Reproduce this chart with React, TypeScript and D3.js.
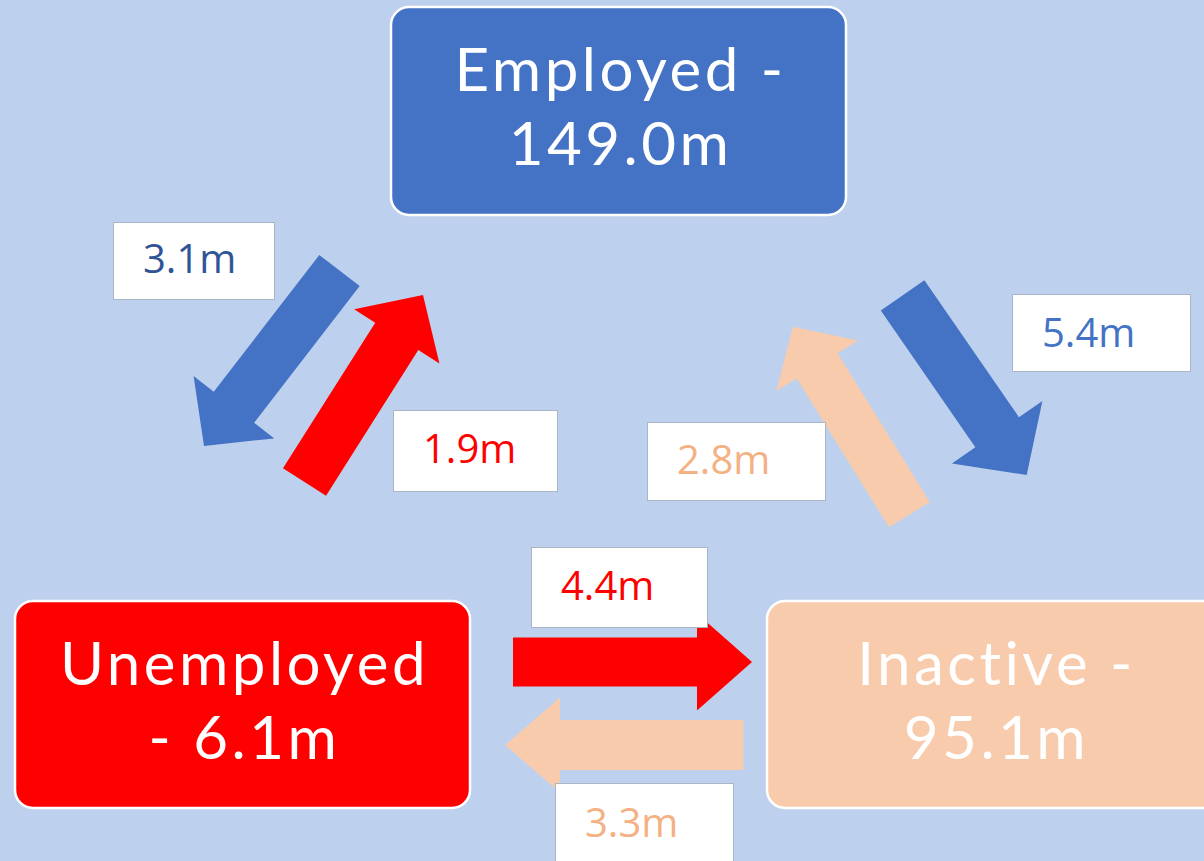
import React, { useEffect, useRef } from 'react';
import * as d3 from 'd3';

// labour market states and their stocks (millions)
const stateNames = ['Employed', 'Unemployed', 'Inactive'];
const stateValues = [149.0, 6.1, 95.1];
const stateLines = [
  ['Employed -', '149.0m'],
  ['Unemployed', '- 6.1m'],
  ['Inactive -', '95.1m'],
];

// flows between states (millions)
const flowFrom = ['Employed', 'Unemployed', 'Employed', 'Inactive', 'Unemployed', 'Inactive'];
const flowTo = ['Unemployed', 'Employed', 'Inactive', 'Employed', 'Inactive', 'Unemployed'];
const flowValues = [3.1, 1.9, 5.4, 2.8, 4.4, 3.3];

// layout (pixels)
const W = 1204;
const H = 861;
const boxLayout = [
  { x: 391, y: 7, w: 455, h: 208 },
  { x: 15, y: 601, w: 455, h: 207 },
  { x: 767, y: 601, w: 455, h: 207 },
];
// tail centre, tip, shaft width, head width, head length
const arrowLayout = [
  { tail: [339.5, 270.5], tip: [204, 446], sw: 51, hw: 102, hl: 49 },
  { tail: [304.5, 482], tip: [423, 295], sw: 51, hw: 101, hl: 49 },
  { tail: [902.6, 295.4], tip: [1026.7, 475], sw: 53, hw: 110, hl: 52 },
  { tail: [909.4, 514.7], tip: [792.9, 326.7], sw: 48, hw: 96, hl: 46 },
  { tail: [513, 662], tip: [752, 662], sw: 49, hw: 97, hl: 55 },
  { tail: [743.5, 745], tip: [505, 745], sw: 50, hw: 95, hl: 55 },
];
const labelLayout = [
  { x: 113, y: 222, w: 161, h: 77, base: 273 },
  { x: 393, y: 410, w: 164, h: 81, base: 463 },
  { x: 1012, y: 294, w: 178, h: 77, base: 347 },
  { x: 647, y: 422, w: 178, h: 78, base: 474 },
  { x: 531, y: 547, w: 176, h: 80, base: 600 },
  { x: 555, y: 783, w: 178, h: 90, base: 837 },
];

const fillColor = d3.scaleOrdinal<string, string>()
  .domain(stateNames)
  .range(['#4472c4', '#ff0000', '#f8cbad']);
const labelColor = ['#2f5597', '#ff0000', '#4472c4', '#f4b183', '#ff0000', '#f4b183'];

const arrowPoints = (a) => {
  const [tx, ty] = a.tail;
  const [px, py] = a.tip;
  const len = Math.hypot(px - tx, py - ty);
  const ux = (px - tx) / len, uy = (py - ty) / len;
  const nx = -uy, ny = ux;
  const bx = px - ux * a.hl, by = py - uy * a.hl;
  const s = a.sw / 2, h = a.hw / 2;
  return [
    [tx + nx * s, ty + ny * s],
    [bx + nx * s, by + ny * s],
    [bx + nx * h, by + ny * h],
    [px, py],
    [bx - nx * h, by - ny * h],
    [bx - nx * s, by - ny * s],
    [tx - nx * s, ty - ny * s],
  ];
};

const App = () => {
  const svgRef = useRef(null);

  useEffect(() => {
    const svg = d3.select(svgRef.current);
    svg.selectAll('*').remove();

    svg.append('rect').attr('width', W).attr('height', H).attr('fill', '#bdd1ee');

    const line = d3.line().curve(d3.curveLinearClosed);

    // arrows
    svg.selectAll('.flow')
      .data(flowValues)
      .enter().append('path')
      .attr('class', 'flow')
      .attr('d', (d, i) => line(arrowPoints(arrowLayout[i])))
      .attr('fill', (d, i) => fillColor(flowFrom[i]));

    // state boxes
    const box = svg.selectAll('.state')
      .data(stateNames)
      .enter().append('g')
      .attr('class', 'state');

    box.append('rect')
      .attr('x', (d, i) => boxLayout[i].x)
      .attr('y', (d, i) => boxLayout[i].y)
      .attr('width', (d, i) => boxLayout[i].w)
      .attr('height', (d, i) => boxLayout[i].h)
      .attr('rx', 18)
      .attr('fill', d => fillColor(d))
      .attr('stroke', '#ffffff')
      .attr('stroke-width', 2.5);

    box.each(function (d, i) {
      const b = boxLayout[i];
      d3.select(this).selectAll('text')
        .data(stateLines[i])
        .enter().append('text')
        .attr('x', b.x + b.w / 2 + 2)
        .attr('y', (t, j) => b.y + 84 + j * 74)
        .attr('text-anchor', 'middle')
        .attr('font-family', 'Lato, sans-serif')
        .attr('font-size', 60)
        .attr('letter-spacing', 3.5)
        .attr('fill', '#ffffff')
        .text(t => t);
    });

    // flow labels
    const lab = svg.selectAll('.lab')
      .data(flowValues)
      .enter().append('g')
      .attr('class', 'lab');

    lab.append('rect')
      .attr('x', (d, i) => labelLayout[i].x + 0.5)
      .attr('y', (d, i) => labelLayout[i].y + 0.5)
      .attr('width', (d, i) => labelLayout[i].w)
      .attr('height', (d, i) => labelLayout[i].h)
      .attr('fill', '#ffffff')
      .attr('stroke', '#a9b4c4')
      .attr('stroke-width', 1);

    lab.append('text')
      .attr('x', (d, i) => labelLayout[i].x + 30)
      .attr('y', (d, i) => labelLayout[i].base)
      .attr('font-family', '"Open Sans", sans-serif')
      .attr('font-size', 40)
      .attr('fill', (d, i) => labelColor[i])
      .text(d => `${d.toFixed(1)}m`);
  }, []);

  return (
    <svg
      ref={svgRef}
      width={W}
      height={H}
      style={{ position: 'absolute', left: 0, top: 0, display: 'block' }}
    />
  );
};

export default App;
